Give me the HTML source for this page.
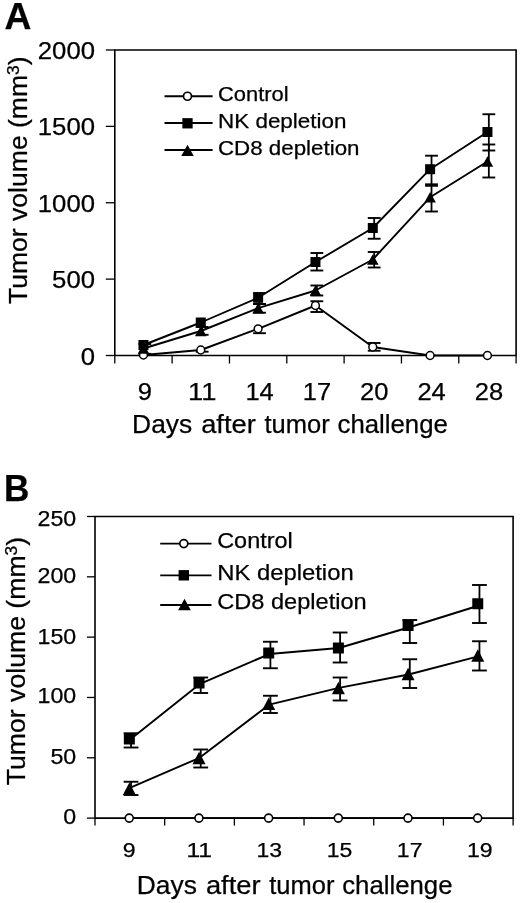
<!DOCTYPE html>
<html><head><meta charset="utf-8"><title>Figure</title>
<style>
html,body{margin:0;padding:0;background:#fff;}
svg{display:block;font-family:'Liberation Sans', Arial, sans-serif;fill:#000;}
text{stroke:#000;stroke-width:0.25px;stroke-linejoin:round;}
</style></head><body>
<svg width="520" height="903" viewBox="0 0 520 903">
<rect x="0" y="0" width="520" height="903" fill="#fff"/>
<path d="M114.8 355.5 V50.0 H516.1 V355.5 Z" fill="none" stroke="#000" stroke-width="1.6"/>
<line x1="105.80" y1="355.50" x2="114.80" y2="355.50" stroke="#000" stroke-width="1.3"/>
<text x="95.00" y="365.10" font-size="24" text-anchor="end" textLength="14.3" lengthAdjust="spacingAndGlyphs">0</text>
<line x1="105.80" y1="279.12" x2="114.80" y2="279.12" stroke="#000" stroke-width="1.3"/>
<text x="95.00" y="288.03" font-size="24" text-anchor="end" textLength="42.9" lengthAdjust="spacingAndGlyphs">500</text>
<line x1="105.80" y1="202.75" x2="114.80" y2="202.75" stroke="#000" stroke-width="1.3"/>
<text x="95.00" y="211.65" font-size="24" text-anchor="end" textLength="57.2" lengthAdjust="spacingAndGlyphs">1000</text>
<line x1="105.80" y1="126.38" x2="114.80" y2="126.38" stroke="#000" stroke-width="1.3"/>
<text x="95.00" y="135.28" font-size="24" text-anchor="end" textLength="57.2" lengthAdjust="spacingAndGlyphs">1500</text>
<line x1="105.80" y1="50.00" x2="114.80" y2="50.00" stroke="#000" stroke-width="1.3"/>
<text x="95.00" y="58.90" font-size="24" text-anchor="end" textLength="57.2" lengthAdjust="spacingAndGlyphs">2000</text>
<line x1="114.80" y1="355.50" x2="114.80" y2="363.50" stroke="#000" stroke-width="1.3"/>
<line x1="172.13" y1="355.50" x2="172.13" y2="363.50" stroke="#000" stroke-width="1.3"/>
<line x1="229.46" y1="355.50" x2="229.46" y2="363.50" stroke="#000" stroke-width="1.3"/>
<line x1="286.79" y1="355.50" x2="286.79" y2="363.50" stroke="#000" stroke-width="1.3"/>
<line x1="344.11" y1="355.50" x2="344.11" y2="363.50" stroke="#000" stroke-width="1.3"/>
<line x1="401.44" y1="355.50" x2="401.44" y2="363.50" stroke="#000" stroke-width="1.3"/>
<line x1="458.77" y1="355.50" x2="458.77" y2="363.50" stroke="#000" stroke-width="1.3"/>
<line x1="516.10" y1="355.50" x2="516.10" y2="363.50" stroke="#000" stroke-width="1.3"/>
<text x="144.96" y="400.00" font-size="24.7" text-anchor="middle" textLength="14.2" lengthAdjust="spacingAndGlyphs">9</text>
<text x="202.29" y="400.00" font-size="24.7" text-anchor="middle" textLength="28.4" lengthAdjust="spacingAndGlyphs">11</text>
<text x="259.62" y="400.00" font-size="24.7" text-anchor="middle" textLength="28.4" lengthAdjust="spacingAndGlyphs">14</text>
<text x="316.95" y="400.00" font-size="24.7" text-anchor="middle" textLength="28.4" lengthAdjust="spacingAndGlyphs">17</text>
<text x="374.28" y="400.00" font-size="24.7" text-anchor="middle" textLength="28.4" lengthAdjust="spacingAndGlyphs">20</text>
<text x="431.61" y="400.00" font-size="24.7" text-anchor="middle" textLength="28.4" lengthAdjust="spacingAndGlyphs">24</text>
<text x="488.94" y="400.00" font-size="24.7" text-anchor="middle" textLength="28.4" lengthAdjust="spacingAndGlyphs">28</text>
<text y="432.6" font-size="26"><tspan x="132.1" textLength="60.1" lengthAdjust="spacingAndGlyphs">Days</tspan> <tspan x="201.2" textLength="54.6" lengthAdjust="spacingAndGlyphs">after</tspan> <tspan x="264.5" textLength="65.2" lengthAdjust="spacingAndGlyphs">tumor</tspan> <tspan x="337.5" textLength="110.3" lengthAdjust="spacingAndGlyphs">challenge</tspan></text>
<text transform="translate(27.3,304) rotate(-90)" font-size="26" textLength="247.6" lengthAdjust="spacingAndGlyphs">Tumor volume (mm<tspan font-size="17" dy="-8">3</tspan><tspan dy="8">)</tspan></text>
<text x="4.40" y="28.50" font-size="36.5" textLength="26.9" lengthAdjust="spacingAndGlyphs" font-weight="bold">A</text>
<polyline points="143.46,355.00 200.79,350.00 258.12,328.80 315.45,305.50 372.78,347.00 430.11,355.50 487.44,355.50" fill="none" stroke="#000" stroke-width="1.9" stroke-linejoin="round"/>
<polyline points="143.46,345.00 200.79,322.50 258.12,297.80 315.45,262.00 372.78,228.00 430.11,169.20 487.44,132.00" fill="none" stroke="#000" stroke-width="1.9" stroke-linejoin="round"/>
<polyline points="143.46,348.50 200.79,331.00 258.12,308.20 315.45,290.50 372.78,259.50 430.11,197.30 487.44,161.50" fill="none" stroke="#000" stroke-width="1.9" stroke-linejoin="round"/>
<line x1="316.85" y1="253.00" x2="316.85" y2="270.50" stroke="#000" stroke-width="1.8"/><line x1="310.45" y1="270.50" x2="323.25" y2="270.50" stroke="#000" stroke-width="1.9"/><line x1="310.45" y1="253.00" x2="323.25" y2="253.00" stroke="#000" stroke-width="1.9"/>
<line x1="374.18" y1="218.00" x2="374.18" y2="238.75" stroke="#000" stroke-width="1.8"/><line x1="367.78" y1="238.75" x2="380.58" y2="238.75" stroke="#000" stroke-width="1.9"/><line x1="367.78" y1="218.00" x2="380.58" y2="218.00" stroke="#000" stroke-width="1.9"/>
<line x1="431.51" y1="155.70" x2="431.51" y2="184.30" stroke="#000" stroke-width="1.8"/><line x1="425.11" y1="184.30" x2="437.91" y2="184.30" stroke="#000" stroke-width="1.9"/><line x1="425.11" y1="155.70" x2="437.91" y2="155.70" stroke="#000" stroke-width="1.9"/>
<line x1="488.84" y1="114.25" x2="488.84" y2="150.50" stroke="#000" stroke-width="1.8"/><line x1="482.44" y1="150.50" x2="495.24" y2="150.50" stroke="#000" stroke-width="1.9"/><line x1="482.44" y1="114.25" x2="495.24" y2="114.25" stroke="#000" stroke-width="1.9"/>
<line x1="316.85" y1="285.50" x2="316.85" y2="295.50" stroke="#000" stroke-width="1.8"/><line x1="310.45" y1="295.50" x2="323.25" y2="295.50" stroke="#000" stroke-width="1.9"/><line x1="310.45" y1="285.50" x2="323.25" y2="285.50" stroke="#000" stroke-width="1.9"/>
<line x1="374.18" y1="252.00" x2="374.18" y2="267.50" stroke="#000" stroke-width="1.8"/><line x1="367.78" y1="267.50" x2="380.58" y2="267.50" stroke="#000" stroke-width="1.9"/><line x1="367.78" y1="252.00" x2="380.58" y2="252.00" stroke="#000" stroke-width="1.9"/>
<line x1="431.51" y1="185.80" x2="431.51" y2="211.50" stroke="#000" stroke-width="1.8"/><line x1="425.11" y1="211.50" x2="437.91" y2="211.50" stroke="#000" stroke-width="1.9"/><line x1="425.11" y1="185.80" x2="437.91" y2="185.80" stroke="#000" stroke-width="1.9"/>
<line x1="488.84" y1="144.50" x2="488.84" y2="177.50" stroke="#000" stroke-width="1.8"/><line x1="482.44" y1="177.50" x2="495.24" y2="177.50" stroke="#000" stroke-width="1.9"/><line x1="482.44" y1="144.50" x2="495.24" y2="144.50" stroke="#000" stroke-width="1.9"/>
<line x1="316.85" y1="301.25" x2="316.85" y2="312.00" stroke="#000" stroke-width="1.8"/><line x1="310.45" y1="312.00" x2="323.25" y2="312.00" stroke="#000" stroke-width="1.9"/><line x1="310.45" y1="301.25" x2="323.25" y2="301.25" stroke="#000" stroke-width="1.9"/>
<line x1="374.18" y1="343.00" x2="374.18" y2="350.75" stroke="#000" stroke-width="1.8"/><line x1="367.78" y1="350.75" x2="380.58" y2="350.75" stroke="#000" stroke-width="1.9"/><line x1="367.78" y1="343.00" x2="380.58" y2="343.00" stroke="#000" stroke-width="1.9"/>
<line x1="259.52" y1="293.00" x2="259.52" y2="304.00" stroke="#000" stroke-width="1.8"/><line x1="253.12" y1="304.00" x2="265.92" y2="304.00" stroke="#000" stroke-width="1.9"/><line x1="253.12" y1="293.00" x2="265.92" y2="293.00" stroke="#000" stroke-width="1.9"/>
<line x1="259.52" y1="304.00" x2="259.52" y2="312.70" stroke="#000" stroke-width="1.8"/><line x1="253.12" y1="312.70" x2="265.92" y2="312.70" stroke="#000" stroke-width="1.9"/><line x1="253.12" y1="304.00" x2="265.92" y2="304.00" stroke="#000" stroke-width="1.9"/>
<line x1="202.19" y1="327.00" x2="202.19" y2="334.80" stroke="#000" stroke-width="1.8"/><line x1="195.79" y1="334.80" x2="208.59" y2="334.80" stroke="#000" stroke-width="1.9"/><line x1="195.79" y1="327.00" x2="208.59" y2="327.00" stroke="#000" stroke-width="1.9"/>
<line x1="144.86" y1="344.00" x2="144.86" y2="353.80" stroke="#000" stroke-width="1.8"/><line x1="138.46" y1="353.80" x2="151.26" y2="353.80" stroke="#000" stroke-width="1.9"/><line x1="138.46" y1="344.00" x2="151.26" y2="344.00" stroke="#000" stroke-width="1.9"/>
<line x1="259.52" y1="329.00" x2="259.52" y2="333.20" stroke="#000" stroke-width="1.8"/><line x1="253.12" y1="333.20" x2="265.92" y2="333.20" stroke="#000" stroke-width="1.9"/>
<line x1="202.19" y1="349.00" x2="202.19" y2="351.70" stroke="#000" stroke-width="1.8"/><line x1="195.79" y1="351.70" x2="208.59" y2="351.70" stroke="#000" stroke-width="1.9"/>
<circle cx="143.46" cy="355.00" r="3.9" fill="#fff" stroke="#000" stroke-width="1.5"/>
<circle cx="200.79" cy="350.00" r="3.9" fill="#fff" stroke="#000" stroke-width="1.5"/>
<circle cx="258.12" cy="328.80" r="3.9" fill="#fff" stroke="#000" stroke-width="1.5"/>
<circle cx="315.45" cy="305.50" r="3.9" fill="#fff" stroke="#000" stroke-width="1.5"/>
<circle cx="372.78" cy="347.00" r="3.9" fill="#fff" stroke="#000" stroke-width="1.5"/>
<circle cx="430.11" cy="355.50" r="3.9" fill="#fff" stroke="#000" stroke-width="1.5"/>
<circle cx="487.44" cy="355.50" r="3.9" fill="#fff" stroke="#000" stroke-width="1.5"/>
<polygon points="143.46,343.25 149.21,353.75 137.71,353.75" fill="#000"/>
<polygon points="200.79,325.75 206.54,336.25 195.04,336.25" fill="#000"/>
<polygon points="258.12,302.95 263.87,313.45 252.37,313.45" fill="#000"/>
<polygon points="315.45,285.25 321.20,295.75 309.70,295.75" fill="#000"/>
<polygon points="372.78,254.25 378.53,264.75 367.03,264.75" fill="#000"/>
<polygon points="430.11,192.05 435.86,202.55 424.36,202.55" fill="#000"/>
<polygon points="487.44,156.25 493.19,166.75 481.69,166.75" fill="#000"/>
<rect x="138.46" y="340.00" width="10" height="10" fill="#000"/>
<rect x="195.79" y="317.50" width="10" height="10" fill="#000"/>
<rect x="253.12" y="292.80" width="10" height="10" fill="#000"/>
<rect x="310.45" y="257.00" width="10" height="10" fill="#000"/>
<rect x="367.78" y="223.00" width="10" height="10" fill="#000"/>
<rect x="425.11" y="164.20" width="10" height="10" fill="#000"/>
<rect x="482.44" y="127.00" width="10" height="10" fill="#000"/>
<line x1="164.50" y1="96.25" x2="212.60" y2="96.25" stroke="#000" stroke-width="1.8"/>
<circle cx="187.50" cy="96.25" r="4.0" fill="#fff" stroke="#000" stroke-width="1.7"/>
<text x="218.00" y="100.85" font-size="21" textLength="70.7" lengthAdjust="spacingAndGlyphs">Control</text>
<line x1="164.50" y1="123.00" x2="212.60" y2="123.00" stroke="#000" stroke-width="1.8"/>
<rect x="182.35" y="118.15" width="10.3" height="10.3" fill="#000"/>
<text x="218.00" y="127.60" font-size="21" textLength="128.5" lengthAdjust="spacingAndGlyphs">NK depletion</text>
<line x1="164.50" y1="150.00" x2="212.60" y2="150.00" stroke="#000" stroke-width="1.8"/>
<polygon points="187.50,144.75 193.75,156.05 181.25,156.05" fill="#000"/>
<text x="218.00" y="154.60" font-size="21" textLength="141.5" lengthAdjust="spacingAndGlyphs">CD8 depletion</text>
<path d="M95.0 818.1 V516.5 H513.1 V818.1 Z" fill="none" stroke="#000" stroke-width="1.6"/>
<line x1="86.90" y1="818.10" x2="95.00" y2="818.10" stroke="#000" stroke-width="1.3"/>
<text x="76.20" y="823.55" font-size="22.3" text-anchor="end" textLength="12.9" lengthAdjust="spacingAndGlyphs">0</text>
<line x1="86.90" y1="757.78" x2="95.00" y2="757.78" stroke="#000" stroke-width="1.3"/>
<text x="76.20" y="763.58" font-size="22.3" text-anchor="end" textLength="25.8" lengthAdjust="spacingAndGlyphs">50</text>
<line x1="86.90" y1="697.46" x2="95.00" y2="697.46" stroke="#000" stroke-width="1.3"/>
<text x="76.20" y="703.06" font-size="22.3" text-anchor="end" textLength="38.7" lengthAdjust="spacingAndGlyphs">100</text>
<line x1="86.90" y1="637.14" x2="95.00" y2="637.14" stroke="#000" stroke-width="1.3"/>
<text x="76.20" y="643.94" font-size="22.3" text-anchor="end" textLength="38.7" lengthAdjust="spacingAndGlyphs">150</text>
<line x1="86.90" y1="576.82" x2="95.00" y2="576.82" stroke="#000" stroke-width="1.3"/>
<text x="76.20" y="582.52" font-size="22.3" text-anchor="end" textLength="38.7" lengthAdjust="spacingAndGlyphs">200</text>
<line x1="86.90" y1="516.50" x2="95.00" y2="516.50" stroke="#000" stroke-width="1.3"/>
<text x="76.20" y="525.80" font-size="22.3" text-anchor="end" textLength="38.7" lengthAdjust="spacingAndGlyphs">250</text>
<line x1="95.00" y1="818.10" x2="95.00" y2="825.60" stroke="#000" stroke-width="1.3"/>
<line x1="164.68" y1="818.10" x2="164.68" y2="825.60" stroke="#000" stroke-width="1.3"/>
<line x1="234.37" y1="818.10" x2="234.37" y2="825.60" stroke="#000" stroke-width="1.3"/>
<line x1="304.05" y1="818.10" x2="304.05" y2="825.60" stroke="#000" stroke-width="1.3"/>
<line x1="373.73" y1="818.10" x2="373.73" y2="825.60" stroke="#000" stroke-width="1.3"/>
<line x1="443.42" y1="818.10" x2="443.42" y2="825.60" stroke="#000" stroke-width="1.3"/>
<line x1="513.10" y1="818.10" x2="513.10" y2="825.60" stroke="#000" stroke-width="1.3"/>
<text x="129.05" y="856.80" font-size="20.5" text-anchor="middle" textLength="12.8" lengthAdjust="spacingAndGlyphs">9</text>
<text x="199.20" y="856.80" font-size="20.5" text-anchor="middle" textLength="25.6" lengthAdjust="spacingAndGlyphs">11</text>
<text x="269.35" y="856.80" font-size="20.5" text-anchor="middle" textLength="25.6" lengthAdjust="spacingAndGlyphs">13</text>
<text x="339.50" y="856.80" font-size="20.5" text-anchor="middle" textLength="25.6" lengthAdjust="spacingAndGlyphs">15</text>
<text x="409.65" y="856.80" font-size="20.5" text-anchor="middle" textLength="25.6" lengthAdjust="spacingAndGlyphs">17</text>
<text x="479.80" y="856.80" font-size="20.5" text-anchor="middle" textLength="25.6" lengthAdjust="spacingAndGlyphs">19</text>
<text y="894" font-size="26"><tspan x="136.8" textLength="60.1" lengthAdjust="spacingAndGlyphs">Days</tspan> <tspan x="205.9" textLength="54.6" lengthAdjust="spacingAndGlyphs">after</tspan> <tspan x="269.2" textLength="65.2" lengthAdjust="spacingAndGlyphs">tumor</tspan> <tspan x="342.2" textLength="110.3" lengthAdjust="spacingAndGlyphs">challenge</tspan></text>
<text transform="translate(24.6,785.3) rotate(-90)" font-size="26" textLength="248.5" lengthAdjust="spacingAndGlyphs">Tumor volume (mm<tspan font-size="17" dy="-8">3</tspan><tspan dy="8">)</tspan></text>
<text x="4.00" y="501.30" font-size="36" textLength="25.4" lengthAdjust="spacingAndGlyphs" font-weight="bold">B</text>
<polyline points="129.84,818.10 199.53,818.10 269.21,818.10 338.89,818.10 408.58,818.10 478.26,818.10" fill="none" stroke="#000" stroke-width="1.9" stroke-linejoin="round"/>
<polyline points="129.84,739.68 199.53,684.19 269.21,654.03 338.89,648.00 408.58,627.49 478.26,605.77" fill="none" stroke="#000" stroke-width="1.9" stroke-linejoin="round"/>
<polyline points="129.84,787.94 199.53,757.78 269.21,704.70 338.89,687.81 408.58,674.54 478.26,656.44" fill="none" stroke="#000" stroke-width="1.9" stroke-linejoin="round"/>
<line x1="131.04" y1="733.25" x2="131.04" y2="747.50" stroke="#000" stroke-width="1.8"/><line x1="123.64" y1="747.50" x2="138.44" y2="747.50" stroke="#000" stroke-width="1.9"/><line x1="123.64" y1="733.25" x2="138.44" y2="733.25" stroke="#000" stroke-width="1.9"/>
<line x1="131.04" y1="781.75" x2="131.04" y2="795.00" stroke="#000" stroke-width="1.8"/><line x1="123.64" y1="795.00" x2="138.44" y2="795.00" stroke="#000" stroke-width="1.9"/><line x1="123.64" y1="781.75" x2="138.44" y2="781.75" stroke="#000" stroke-width="1.9"/>
<line x1="200.72" y1="677.50" x2="200.72" y2="693.00" stroke="#000" stroke-width="1.8"/><line x1="193.32" y1="693.00" x2="208.12" y2="693.00" stroke="#000" stroke-width="1.9"/><line x1="193.32" y1="677.50" x2="208.12" y2="677.50" stroke="#000" stroke-width="1.9"/>
<line x1="200.72" y1="749.50" x2="200.72" y2="767.50" stroke="#000" stroke-width="1.8"/><line x1="193.32" y1="767.50" x2="208.12" y2="767.50" stroke="#000" stroke-width="1.9"/><line x1="193.32" y1="749.50" x2="208.12" y2="749.50" stroke="#000" stroke-width="1.9"/>
<line x1="270.41" y1="641.75" x2="270.41" y2="668.25" stroke="#000" stroke-width="1.8"/><line x1="263.01" y1="668.25" x2="277.81" y2="668.25" stroke="#000" stroke-width="1.9"/><line x1="263.01" y1="641.75" x2="277.81" y2="641.75" stroke="#000" stroke-width="1.9"/>
<line x1="270.41" y1="695.75" x2="270.41" y2="713.00" stroke="#000" stroke-width="1.8"/><line x1="263.01" y1="713.00" x2="277.81" y2="713.00" stroke="#000" stroke-width="1.9"/><line x1="263.01" y1="695.75" x2="277.81" y2="695.75" stroke="#000" stroke-width="1.9"/>
<line x1="340.09" y1="632.50" x2="340.09" y2="662.50" stroke="#000" stroke-width="1.8"/><line x1="332.69" y1="662.50" x2="347.49" y2="662.50" stroke="#000" stroke-width="1.9"/><line x1="332.69" y1="632.50" x2="347.49" y2="632.50" stroke="#000" stroke-width="1.9"/>
<line x1="340.09" y1="677.50" x2="340.09" y2="700.50" stroke="#000" stroke-width="1.8"/><line x1="332.69" y1="700.50" x2="347.49" y2="700.50" stroke="#000" stroke-width="1.9"/><line x1="332.69" y1="677.50" x2="347.49" y2="677.50" stroke="#000" stroke-width="1.9"/>
<line x1="409.78" y1="620.00" x2="409.78" y2="643.00" stroke="#000" stroke-width="1.8"/><line x1="402.38" y1="643.00" x2="417.18" y2="643.00" stroke="#000" stroke-width="1.9"/><line x1="402.38" y1="620.00" x2="417.18" y2="620.00" stroke="#000" stroke-width="1.9"/>
<line x1="409.78" y1="659.25" x2="409.78" y2="688.00" stroke="#000" stroke-width="1.8"/><line x1="402.38" y1="688.00" x2="417.18" y2="688.00" stroke="#000" stroke-width="1.9"/><line x1="402.38" y1="659.25" x2="417.18" y2="659.25" stroke="#000" stroke-width="1.9"/>
<line x1="479.46" y1="585.00" x2="479.46" y2="623.00" stroke="#000" stroke-width="1.8"/><line x1="472.06" y1="623.00" x2="486.86" y2="623.00" stroke="#000" stroke-width="1.9"/><line x1="472.06" y1="585.00" x2="486.86" y2="585.00" stroke="#000" stroke-width="1.9"/>
<line x1="479.46" y1="641.25" x2="479.46" y2="670.50" stroke="#000" stroke-width="1.8"/><line x1="472.06" y1="670.50" x2="486.86" y2="670.50" stroke="#000" stroke-width="1.9"/><line x1="472.06" y1="641.25" x2="486.86" y2="641.25" stroke="#000" stroke-width="1.9"/>
<polygon points="129.34,782.50 135.84,795.00 122.84,795.00" fill="#000"/>
<polygon points="199.03,751.65 205.53,764.15 192.53,764.15" fill="#000"/>
<polygon points="268.71,697.50 275.21,710.00 262.21,710.00" fill="#000"/>
<polygon points="338.39,681.65 344.89,694.15 331.89,694.15" fill="#000"/>
<polygon points="408.08,667.85 414.58,680.35 401.58,680.35" fill="#000"/>
<polygon points="477.76,649.35 484.26,661.85 471.26,661.85" fill="#000"/>
<rect x="123.84" y="733.50" width="11" height="11" fill="#000"/>
<rect x="193.53" y="677.50" width="11" height="11" fill="#000"/>
<rect x="263.21" y="647.50" width="11" height="11" fill="#000"/>
<rect x="332.89" y="642.50" width="11" height="11" fill="#000"/>
<rect x="402.58" y="620.00" width="11" height="11" fill="#000"/>
<rect x="472.26" y="598.25" width="11" height="11" fill="#000"/>
<circle cx="129.24" cy="818.10" r="4.0" fill="#fff" stroke="#000" stroke-width="1.6"/>
<circle cx="198.93" cy="818.10" r="4.0" fill="#fff" stroke="#000" stroke-width="1.6"/>
<circle cx="268.61" cy="818.10" r="4.0" fill="#fff" stroke="#000" stroke-width="1.6"/>
<circle cx="338.29" cy="818.10" r="4.0" fill="#fff" stroke="#000" stroke-width="1.6"/>
<circle cx="407.98" cy="818.10" r="4.0" fill="#fff" stroke="#000" stroke-width="1.6"/>
<circle cx="477.66" cy="818.10" r="4.0" fill="#fff" stroke="#000" stroke-width="1.6"/>
<line x1="160.20" y1="543.60" x2="211.50" y2="543.60" stroke="#000" stroke-width="1.8"/>
<circle cx="183.80" cy="543.60" r="4.0" fill="#fff" stroke="#000" stroke-width="1.7"/>
<text x="217.20" y="548.30" font-size="22" textLength="75.5" lengthAdjust="spacingAndGlyphs">Control</text>
<line x1="160.20" y1="575.30" x2="211.50" y2="575.30" stroke="#000" stroke-width="1.8"/>
<rect x="178.60" y="570.10" width="10.4" height="10.4" fill="#000"/>
<text x="217.20" y="579.60" font-size="22" textLength="136.5" lengthAdjust="spacingAndGlyphs">NK depletion</text>
<line x1="160.20" y1="605.00" x2="211.50" y2="605.00" stroke="#000" stroke-width="1.8"/>
<polygon points="184.50,598.70 190.85,610.30 178.15,610.30" fill="#000"/>
<text x="217.20" y="609.20" font-size="22" textLength="149.5" lengthAdjust="spacingAndGlyphs">CD8 depletion</text>
</svg>
</body></html>
